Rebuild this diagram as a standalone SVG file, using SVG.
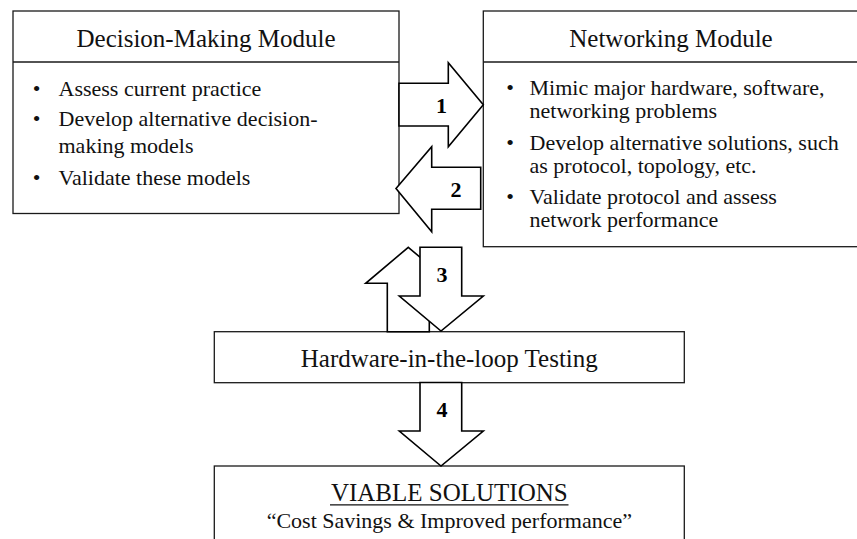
<svg xmlns="http://www.w3.org/2000/svg" width="857" height="539" viewBox="0 0 857 539">
  <style>
    .box { fill: #fff; stroke: #1a1a1a; stroke-width: 1.3; }
    .rule { stroke: #1a1a1a; stroke-width: 1.3; }
    .arrow { fill: #fff; stroke: #000; stroke-width: 1.6; stroke-linejoin: miter; }
    .title { font-family: "Liberation Serif", "Times New Roman", serif; font-size: 25px; fill: #111; }
    .body { font-family: "Liberation Serif", "Times New Roman", serif; font-size: 22px; fill: #111; }
    .num { font-family: "Liberation Serif", "Times New Roman", serif; font-size: 22px; font-weight: bold; fill: #000; text-anchor: middle; }
  </style>
  <rect width="857" height="539" fill="#fff"/>

  <!-- Decision-making module -->
  <g id="decision-module">
    <rect class="box" x="13" y="11" width="386" height="202.5"/>
    <line class="rule" x1="13" y1="62" x2="399" y2="62"/>
    <text class="title" x="206" y="47" text-anchor="middle">Decision-Making Module</text>
    <g class="body">
      <text x="36.5" y="95.5" text-anchor="middle">•</text>
      <text x="58.5" y="95.5">Assess current practice</text>
      <text x="36.5" y="126" text-anchor="middle">•</text>
      <text x="58.5" y="126">Develop alternative decision-</text>
      <text x="58.5" y="152.5">making models</text>
      <text x="36.5" y="185" text-anchor="middle">•</text>
      <text x="58.5" y="185">Validate these models</text>
    </g>
  </g>

  <!-- Networking module (continues past the right edge) -->
  <g id="networking-module">
    <rect class="box" x="483.3" y="11" width="400" height="235.7"/>
    <line class="rule" x1="483.3" y1="62" x2="870" y2="62"/>
    <text class="title" x="671" y="47" text-anchor="middle">Networking Module</text>
    <g class="body">
      <text x="510" y="95" text-anchor="middle">•</text>
      <text x="529.5" y="95">Mimic major hardware, software,</text>
      <text x="529.5" y="118">networking problems</text>
      <text x="510" y="150" text-anchor="middle">•</text>
      <text x="529.5" y="150">Develop alternative solutions, such</text>
      <text x="529.5" y="173">as protocol, topology, etc.</text>
      <text x="510" y="204" text-anchor="middle">•</text>
      <text x="529.5" y="204">Validate protocol and assess</text>
      <text x="529.5" y="227">network performance</text>
    </g>
  </g>

  <!-- Hardware-in-the-loop testing -->
  <g id="hil-testing">
    <rect class="box" x="214.3" y="331.7" width="470" height="51"/>
    <text class="title" x="449.3" y="366.5" text-anchor="middle">Hardware-in-the-loop Testing</text>
  </g>

  <!-- Viable solutions (continues past the bottom edge) -->
  <g id="viable-solutions">
    <rect class="box" x="214.3" y="466" width="470" height="100"/>
    <text class="title" x="449.3" y="500.5" text-anchor="middle">VIABLE SOLUTIONS</text>
    <line x1="330" y1="504.8" x2="568.5" y2="504.8" stroke="#111" stroke-width="1.2"/>
    <text class="body" x="449.3" y="528" text-anchor="middle">“Cost Savings &amp; Improved performance”</text>
  </g>

  <!-- Block arrows between modules -->
  <g id="connectors">
    <!-- 1: decision -> networking -->
    <polygon class="arrow" points="399,83.3 448.3,83.3 448.3,62.7 483.3,104.7 448.3,146.7 448.3,126 399,126"/>
    <text class="num" x="441.5" y="112.5">1</text>
    <!-- 2: networking -> decision -->
    <polygon class="arrow" points="396,188.5 431.7,146.7 431.7,167.3 480.7,167.3 480.7,209.3 431.7,209.3 431.7,231.7"/>
    <text class="num" x="456" y="197">2</text>
    <!-- 3: testing <-> modules (up arrow under, down arrow over) -->
    <polygon class="arrow" points="408.3,247.3 451,283.3 429.3,283.3 429.3,331.7 387.3,331.7 387.3,283.3 365.7,283.3"/>
    <polygon class="arrow" points="420,247.3 461.7,247.3 461.7,296 483.3,296 441,331 399.3,296 420,296"/>
    <text class="num" x="442" y="281.5">3</text>
    <!-- 4: testing -> solutions -->
    <polygon class="arrow" points="420,382.5 461.7,382.5 461.7,431 483.3,431 441,466 399.3,431 420,431"/>
    <text class="num" x="442" y="416.5">4</text>
  </g>
</svg>
